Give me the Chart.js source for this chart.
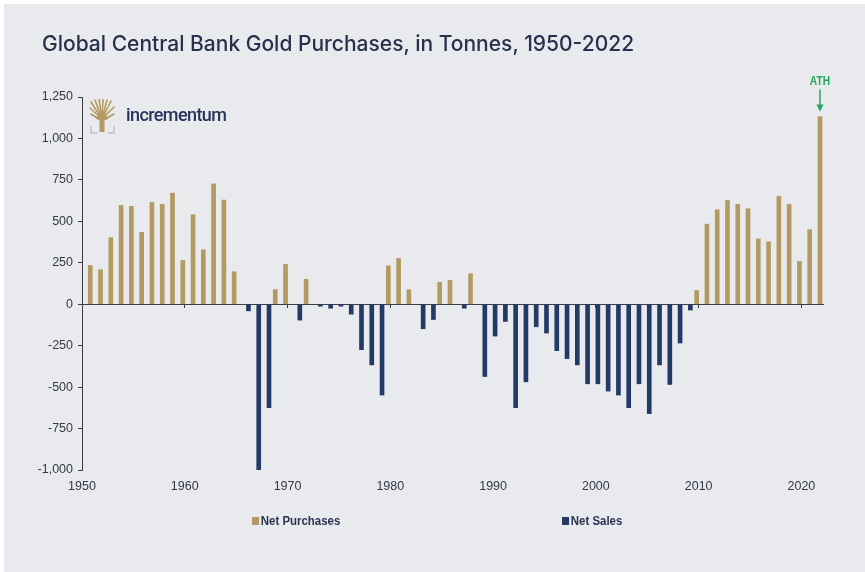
<!DOCTYPE html>
<html>
<head>
<meta charset="utf-8">
<script src="https://cdn.jsdelivr.net/npm/chart.js@4/dist/chart.umd.min.js"></script>
<style>
  html, body { margin: 0; padding: 0; background: #ffffff; }
  #panel { position: absolute; left: 4px; top: 4px; width: 861px; height: 568px; background: #e9eaee; }
  #wrap { position: absolute; left: 0; top: 0; width: 865px; height: 572px; }
  #title { position: absolute; left: 42px; top: 31px; font-family: Inter, 'Noto Sans', sans-serif; font-weight: 500; font-size: 21px; color: #27314b; letter-spacing: 0; white-space: nowrap; }
  #logo { position: absolute; left: 89px; top: 99px; height: 36px; }
  #logo svg { position: absolute; left: 0; top: 0; }
  #logo span { position: absolute; left: 37px; top: 5px; font-family: Roboto, Arial, sans-serif; font-weight: 500; font-size: 18px; color: #27335a; letter-spacing: -0.6px; white-space: nowrap; }
  .leg { position: absolute; top: 513px; font-family: 'Liberation Sans Narrow', 'Liberation Sans', sans-serif; font-weight: bold; font-size: 13px; color: #2a3352; white-space: nowrap; transform: scaleX(0.88); transform-origin: 0 50%; }
  .leg i { display: inline-block; width: 8px; height: 8px; margin-right: 2px; vertical-align: 0px; }
</style>
</head>
<body>
<div id="panel"></div>
<div id="wrap"><canvas id="chart-gold"></canvas></div>
<div id="title">Global Central Bank Gold Purchases, in Tonnes, 1950-2022</div>
<div id="logo">
  <svg width="28" height="36" viewBox="0 0 28 36">
    <g stroke="#b39a63" stroke-width="1.6" fill="none" stroke-linecap="round">
      <line x1="13" y1="20" x2="1" y2="9"/>
      <line x1="13" y1="20" x2="2" y2="3"/>
      <line x1="13" y1="20" x2="6" y2="1"/>
      <line x1="13" y1="20" x2="10" y2="0"/>
      <line x1="13" y1="20" x2="14" y2="0"/>
      <line x1="13" y1="20" x2="18" y2="1"/>
      <line x1="13" y1="20" x2="22" y2="2"/>
      <line x1="13" y1="20" x2="25" y2="8"/>
      <line x1="13" y1="22" x2="2" y2="15"/>
      <line x1="13" y1="22" x2="25" y2="15"/>
    </g>
    <path d="M10.5 17 L15.5 17 L15.5 33 L10.5 33 Z" fill="#b39a63"/>
    <path d="M10 14 Q13 22 7 20 Z M16 14 Q13 22 19 20 Z" fill="#b39a63"/>
    <g stroke="#c9cad1" stroke-width="2" fill="none">
      <polyline points="2,27 2,34 8,34"/>
      <polyline points="25,27 25,34 19,34"/>
    </g>
  </svg>
  <span>incrementum</span>
</div>
<div class="leg" style="left:252px"><i style="background:#b39a63"></i>Net Purchases</div>
<div class="leg" style="left:562px"><i style="background:#243a66"></i>Net Sales</div>
<script>
(function () {
  'use strict';

  // net central bank gold flows in tonnes, 1951-2022
  var years = [
    1951, 1952, 1953, 1954, 1955, 1956, 1957, 1958, 1959, 1960,
    1961, 1962, 1963, 1964, 1965, 1966, 1967, 1968, 1969, 1970,
    1971, 1972, 1973, 1974, 1975, 1976, 1977, 1978, 1979, 1980,
    1981, 1982, 1983, 1984, 1985, 1986, 1987, 1988, 1989, 1990,
    1991, 1992, 1993, 1994, 1995, 1996, 1997, 1998, 1999, 2000,
    2001, 2002, 2003, 2004, 2005, 2006, 2007, 2008, 2009, 2010,
    2011, 2012, 2013, 2014, 2015, 2016, 2017, 2018, 2019, 2020,
    2021, 2022
  ];
  var netTonnes = [
    234, 208, 402, 596, 590, 434, 614, 602, 670, 264,
    540, 328, 726, 628, 196, -40, -1000, -624, 88, 240,
    -96, 150, -12, -24, -12, -60, -274, -366, -548, 232,
    276, 88, -148, -92, 132, 144, -24, 184, -436, -192,
    -104, -624, -468, -136, -174, -280, -328, -366, -480, -480,
    -524, -548, -624, -480, -660, -366, -484, -234, -35, 83,
    483, 570, 626, 602, 576, 394, 376, 650, 602, 258,
    450, 1132
  ];
  var yTicks = [-1000, -750, -500, -250, 0, 250, 500, 750, 1000, 1250];
  var xTicks = [1950, 1960, 1970, 1980, 1990, 2000, 2010, 2020];

  var gold = '#b39a63';
  var navy = '#243a66';
  var axisColor = '#3c3e46';
  var narrow = "'Liberation Sans Narrow', 'Liberation Sans', sans-serif";
  var tickFont = { family: narrow, size: 12.5 };

  var purchases = years.map(function (y, i) {
    return { x: y, y: netTonnes[i] > 0 ? netTonnes[i] : null };
  });
  var sales = years.map(function (y, i) {
    return { x: y, y: netTonnes[i] < 0 ? netTonnes[i] : null };
  });

  // green "ATH" marker above the last purchase bar
  var athMarker = {
    id: 'athMarker',
    afterDatasetsDraw: function (chart) {
      var meta = chart.getDatasetMeta(0);
      var bar = meta.data[meta.data.length - 1];
      if (!bar) return;
      var ctx = chart.ctx;
      var x = bar.x, top = bar.y;
      ctx.save();
      ctx.fillStyle = '#22a95d';
      ctx.strokeStyle = '#22a95d';
      ctx.font = 'bold 12px ' + narrow;
      ctx.textAlign = 'center';
      ctx.textBaseline = 'middle';
      ctx.translate(x, top - 35);
      ctx.scale(0.85, 1);
      ctx.fillText('ATH', 0, 0);
      ctx.setTransform(1, 0, 0, 1, 0, 0);
      ctx.lineWidth = 1.5;
      ctx.beginPath();
      ctx.moveTo(x, top - 27);
      ctx.lineTo(x, top - 10);
      ctx.stroke();
      ctx.beginPath();
      ctx.moveTo(x - 3.5, top - 12);
      ctx.lineTo(x + 3.5, top - 12);
      ctx.lineTo(x, top - 5);
      ctx.closePath();
      ctx.fill();
      ctx.restore();
    }
  };

  new Chart(document.getElementById('chart-gold'), {
    type: 'bar',
    data: {
      datasets: [
        { label: 'Net Purchases', data: purchases, backgroundColor: gold, barThickness: 4 },
        { label: 'Net Sales', data: sales, backgroundColor: navy, barThickness: 4 }
      ]
    },
    plugins: [athMarker],
    options: {
      responsive: true,
      maintainAspectRatio: false,
      animation: false,
      layout: { padding: { top: 97, right: 42, bottom: 72, left: 0 } },
      plugins: { legend: { display: false }, tooltip: { enabled: false } },
      scales: {
        x: {
          type: 'linear',
          position: { y: 0 },
          offset: false,
          min: 1950,
          max: 2022.1,
          afterBuildTicks: function (scale) {
            scale.ticks = xTicks.map(function (v) { return { value: v }; });
          },
          ticks: { display: false },
          grid: { offset: false, drawOnChartArea: false, drawTicks: true, tickLength: 3, color: axisColor },
          border: { display: true, color: axisColor, width: 1 }
        },
        xb: {
          type: 'linear',
          position: 'bottom',
          offset: false,
          min: 1950,
          max: 2022.1,
          afterBuildTicks: function (scale) {
            scale.ticks = xTicks.map(function (v) { return { value: v }; });
          },
          afterFit: function (scale) { scale.height = 30; },
          ticks: {
            color: '#343848',
            font: tickFont,
            padding: 9,
            maxRotation: 0,
            callback: function (v) { return String(v); }
          },
          grid: { display: false, drawTicks: false, offset: false },
          border: { display: false }
        },
        y: {
          min: -1000,
          max: 1250,
          afterBuildTicks: function (scale) {
            scale.ticks = yTicks.map(function (v) { return { value: v }; });
          },
          afterFit: function (scale) { scale.width = 82; },
          ticks: {
            color: '#343848',
            font: tickFont,
            padding: 5,
            callback: function (v) { return Number(v).toLocaleString('en-US'); }
          },
          grid: { drawOnChartArea: false, drawTicks: true, tickLength: 4, color: axisColor },
          border: { display: true, color: axisColor, width: 1 }
        }
      }
    }
  });
})();
</script>
</body>
</html>
